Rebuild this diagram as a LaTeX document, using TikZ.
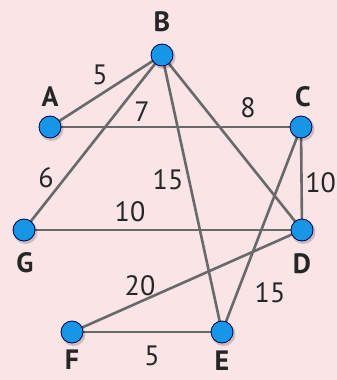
\documentclass[tikz,border=0pt]{standalone}
\usepackage{fontspec}
\setmainfont{PT Sans}
\begin{document}
\begin{tikzpicture}[x=1pt,y=-1pt,
  vert/.style={circle,draw=black!70!blue,line width=0.8pt,fill={rgb,255:red,24;green,150;blue,230},minimum size=22pt,inner sep=0pt},
  edge/.style={draw={rgb,255:red,105;green,105;blue,105},line width=2.6pt},
  lab/.style={font=\fontsize{28}{30}\selectfont\bfseries,text=black!85},
  wt/.style={font=\fontsize{28}{30}\selectfont,text=black!85}]
\definecolor{bg}{RGB}{249,228,230}
\fill[bg] (0,0) rectangle (337,380);
\useasboundingbox (0,0) rectangle (337,380);
\coordinate (pB) at (162,55);
\coordinate (pA) at (50,127);
\coordinate (pC) at (301,127);
\coordinate (pG) at (24,230);
\coordinate (pD) at (302,230);
\coordinate (pF) at (72,332);
\coordinate (pE) at (222,332);
\draw[edge] (pA) -- (pB);
\draw[edge] (pB) -- (pG);
\draw[edge] (pA) -- (pC);
\draw[edge] (pB) -- (pE);
\draw[edge] (pB) -- (pD);
\draw[edge] (pC) -- (pD);
\draw[edge] (pC) -- (pE);
\draw[edge] (pG) -- (pD);
\draw[edge] (pF) -- (pD);
\draw[edge] (pF) -- (pE);
\foreach \v in {A,B,C,D,E,F,G}{
  \fill[black,opacity=0.18] ([shift={(1.5,2)}]p\v) circle (12);
  \node[vert] (\v) at (p\v) {};
}
\node[lab] (lB) at (162,22) {B};
\node[lab] (lA) at (50,97) {A};
\node[lab] (lC) at (303,97) {C};
\node[lab] (lG) at (25,263) {G};
\node[lab] (lD) at (302,264) {D};
\node[lab] (lF) at (72,360) {F};
\node[lab] (lE) at (222,361) {E};
\node[wt] (w1) at (100,75) {5};
\node[wt] (w2) at (142,112) {7};
\node[wt] (w3) at (248,108) {8};
\node[wt] (w4) at (46,178) {6};
\node[wt] (w5) at (168,180) {15};
\node[wt,anchor=east,inner xsep=1pt] (w6) at (337,183) {10};
\node[wt] (w7) at (130,212) {10};
\node[wt] (w8) at (140,286) {20};
\node[wt] (w9) at (270,293) {15};
\node[wt] (w10) at (152,356) {5};
\end{tikzpicture}
\end{document}
